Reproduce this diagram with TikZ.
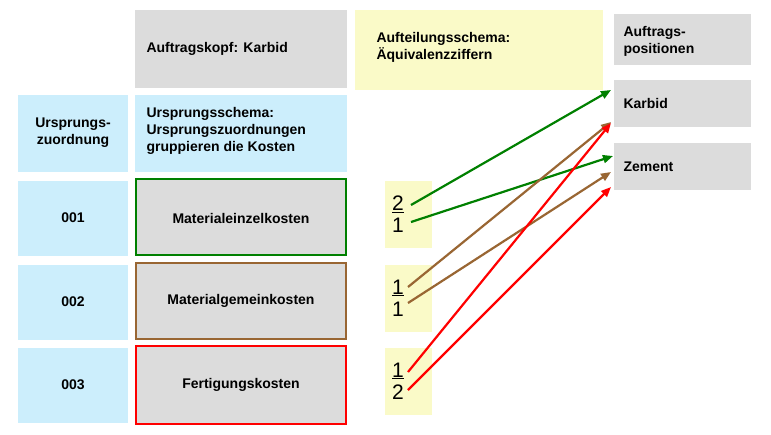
\documentclass[tikz,border=0pt]{standalone}
\usepackage{fontspec}
\setmainfont{Liberation Sans}
\usetikzlibrary{arrows.meta}
\definecolor{gbox}{HTML}{DCDCDC}
\definecolor{bbox}{HTML}{CCEEFC}
\definecolor{ybox}{HTML}{FAFAC8}
\definecolor{dgreen}{HTML}{008000}
\definecolor{brown}{HTML}{996633}
\definecolor{bred}{HTML}{FF0000}
\begin{document}
\begin{tikzpicture}[x=1pt,y=-1pt,
 box/.style={draw=none,align=center,font=\fontsize{14}{17}\selectfont\bfseries},
 frac/.style={font=\fontsize{21}{23}\selectfont,align=center},
 arr/.style={line width=2.2pt,-{Triangle[length=10pt,width=8pt]}}]
\useasboundingbox (0,0) rectangle (771,434);
\fill[gbox] (135,10) rectangle (347,88); \node[box,anchor=west] (kopf) at (143,49) {Auftragskopf: Karbid};
\fill[ybox] (355,10) rectangle (603,90); \node[box,align=left,anchor=west] (auft) at (373,47) {Aufteilungsschema:\\Äquivalenzziffern};
\fill[gbox] (614,14) rectangle (751,65); \node[box,align=left,anchor=west] (apos) at (620,41) {Auftrags-\\positionen};
\fill[gbox] (614,80) rectangle (751,127); \node[box,anchor=west] (karbid) at (620,103) {Karbid};
\fill[gbox] (614,143) rectangle (751,190); \node[box,anchor=west] (zement) at (620,167) {Zement};
\fill[bbox] (18,95) rectangle (128,172); \node[box] (uz) at (73,133) {Ursprungs-\\zuordnung};
\fill[bbox] (135,95) rectangle (347,172); \node[box,align=left,anchor=west] (us) at (143,131) {Ursprungsschema:\\Ursprungszuordnungen\\gruppieren die Kosten};
\fill[bbox] (18,181) rectangle (128,256); \node[box] (n1) at (73,218) {001};
\fill[bbox] (18,265) rectangle (128,340); \node[box] (n2) at (73,302) {002};
\fill[bbox] (18,348) rectangle (128,423); \node[box] (n3) at (73,385) {003};
\draw[fill=gbox,draw=dgreen,line width=2.5pt] (136,179) rectangle (346,255);
\node[box] (m1) at (241,218) {Materialeinzelkosten};
\draw[fill=gbox,draw=brown,line width=2.5pt] (136,263) rectangle (346,339);
\node[box] (m2) at (241,301) {Materialgemeinkosten};
\draw[fill=gbox,draw=bred,line width=2.5pt] (136,346) rectangle (346,424);
\node[box] (m3) at (241,385) {Fertigungskosten};
\fill[ybox] (385,181) rectangle (432,248); \fill[ybox] (385,265) rectangle (432,332); \fill[ybox] (385,348) rectangle (432,415);
\node[frac] (f1) at (398,214) {\underline{2}\\[-1pt]1};
\node[frac] (f2) at (398,298) {\underline{1}\\[-1pt]1};
\node[frac] (f3) at (398,381) {\underline{1}\\[-1pt]2};
\coordinate (a1) at (411,205); \coordinate (a2) at (411,222);
\coordinate (b1) at (408,287); \coordinate (b2) at (408,303);
\coordinate (c1) at (408,372); \coordinate (c2) at (408,390);
\coordinate (k1) at (611,90); \coordinate (k2) at (611,122); \coordinate (k3) at (611,123);
\coordinate (z1) at (613,156); \coordinate (z2) at (611,172); \coordinate (z3) at (611,187);
\draw[arr,dgreen] (a1) -- (k1);
\draw[arr,dgreen] (a2) -- (z1);
\draw[arr,brown] (b1) -- (k2);
\draw[arr,brown] (b2) -- (z2);
\draw[arr,bred] (c1) -- (k3);
\draw[arr,bred] (c2) -- (z3);
\end{tikzpicture}
\end{document}
